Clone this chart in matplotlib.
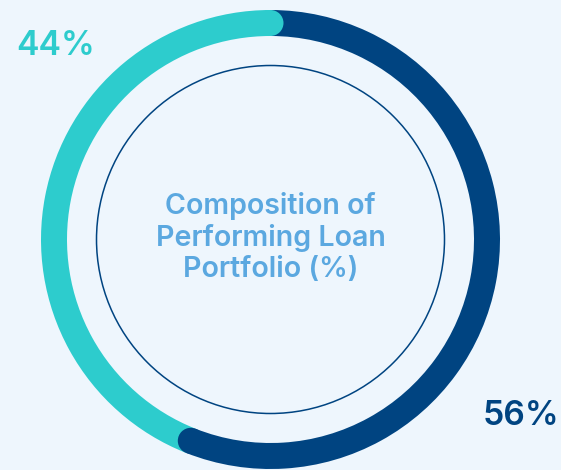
"""Donut chart: composition of performing loan portfolio."""

import matplotlib

matplotlib.use("Agg")

import matplotlib.pyplot as plt
import numpy as np
from matplotlib.patches import Circle, Wedge

# data (clockwise from 12 o'clock)
shares = [56, 44]
share_colors = ["#004481", "#2DCCCD"]
center_title = "Composition of\nPerforming Loan\nPortfolio (%)"

BG = "#EEF6FD"
TITLE_COLOR = "#5BA8E0"

# geometry in pixels
outer_r = 229.5
ring_w = 26.0
inner_line_r = 174.0
cx, cy = 270.5, 239.5
W, H = 561, 470

fig = plt.figure(figsize=(W / 100, H / 100), dpi=100, facecolor=BG)
ax = fig.add_axes([0, 0, 1, 1])
ax.set_facecolor(BG)
ax.set_xlim(-cx, W - cx)
ax.set_ylim(-(H - cy), cy)
ax.set_aspect("equal")
ax.axis("off")

fractions = np.array(shares, dtype=float) / sum(shares)
bounds = np.concatenate([[0.0], np.cumsum(fractions)])

# arcs, butt ends
for i, color in enumerate(share_colors):
    start_deg = 90 - 360 * bounds[i]
    end_deg = 90 - 360 * bounds[i + 1]
    ax.add_patch(Wedge((0, 0), outer_r, end_deg, start_deg, width=ring_w,
                       facecolor=color, edgecolor="none"))

# rounded cap at the clockwise end of each segment, drawn on top of the next
mid_r = outer_r - ring_w / 2
for i, color in enumerate(share_colors):
    ang = np.pi / 2 - 2 * np.pi * bounds[i + 1]
    ax.add_patch(Circle((mid_r * np.cos(ang), mid_r * np.sin(ang)), ring_w / 2,
                        facecolor=color, edgecolor="none", zorder=3))

# thin inner circle
ax.add_patch(Circle((0, 0), inner_line_r, facecolor="none",
                    edgecolor=share_colors[0], linewidth=1.1, zorder=2))

ax.text(0, 2, center_title, ha="center", va="center", color=TITLE_COLOR,
        fontsize=20.6, fontweight="semibold", family="Inter", linespacing=1.2)

# percentage labels
ax.text(-cx + 16, cy - 46, f"{shares[1]}%", ha="left", va="center",
        color=share_colors[1], fontsize=24.3, fontweight="semibold", family="Inter")
ax.text(W - cx - 2, cy - 416, f"{shares[0]}%", ha="right", va="center",
        color=share_colors[0], fontsize=24.3, fontweight="semibold", family="Inter")

fig.savefig("out.png", dpi=100, facecolor=BG)
